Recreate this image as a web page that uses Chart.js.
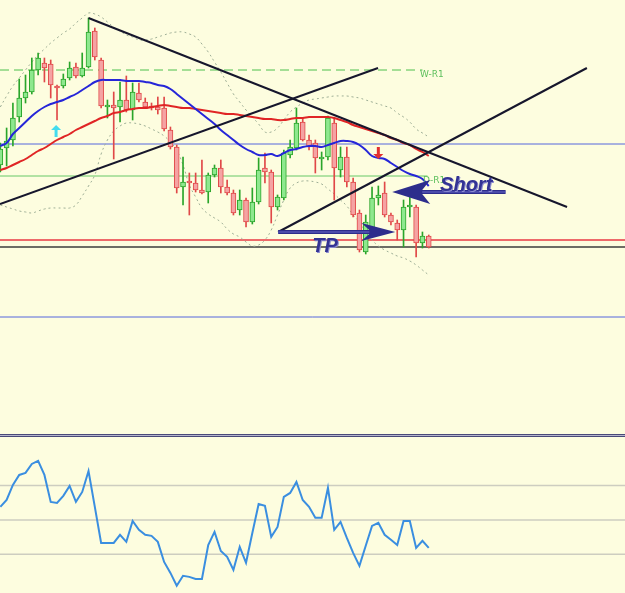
<!DOCTYPE html>
<html><head><meta charset="utf-8">
<script src="https://cdn.jsdelivr.net/npm/chart.js@4.4.1/dist/chart.umd.min.js"></script>
<style>
html,body{margin:0;padding:0;background:#fdfddf;}
#wrap{width:625px;height:593px;position:relative;overflow:hidden;background:#fdfddf;}
#main{position:absolute;left:0;top:0;width:625px;height:434px;}
#sep{position:absolute;left:0;top:434px;width:625px;height:1px;border-top:1px solid #4a4a78;border-bottom:1px solid #4a4a78;background:#b4b4cc;}
#rsi{position:absolute;left:0;top:437px;width:625px;height:156px;}
</style></head><body>
<div id="wrap">
<canvas id="main" width="625" height="434"></canvas>
<div id="sep"></div>
<canvas id="rsi" width="625" height="156"></canvas>
</div>
<script>
// ---------- data ----------
const bars = [0,1,2,3,4,5,6,7,8,9,10,11,12,13,14,15,16,17,18,19,20,21,22,23,24,25,26,27,28,29,30,31,32,33,34,35,36,37,38,39,40,41,42,43,44,45,46,47,48,49,50,51,52,53,54,55,56,57,58,59,60,61,62,63,64,65,66,67,68];
const open = [1.3335,1.3352,1.3360,1.3383,1.3402,1.3408,1.3430,1.3437,1.3436,1.3414,
1.3414,1.3422,1.3433,1.3424,1.3433,1.3469,1.3440,1.3393,1.3395,1.3393,
1.3400,1.3390,1.3407,1.3398,1.3394,1.3393,1.3392,1.3370,1.3353,1.3313,
1.3319,1.3317,1.3310,1.3308,1.3325,1.3332,1.3313,1.3307,1.3290,1.3300,
1.3278,1.3298,1.3332,1.3328,1.3293,1.3302,1.3345,1.3352,1.3378,1.3360,
1.3357,1.3341,1.3343,1.3377,1.3330,1.3343,1.3318,1.3287,1.3248,1.3270,
1.3302,1.3307,1.3285,1.3277,1.3270,1.3293,1.3293,1.3257,1.3264];
const high = [1.3357,1.3372,1.3397,1.3421,1.3425,1.3442,1.3447,1.3442,1.3440,1.3415,
1.3426,1.3438,1.3437,1.3447,1.3482,1.3472,1.3442,1.3400,1.3408,1.3418,
1.3424,1.3417,1.3417,1.3402,1.3397,1.3403,1.3403,1.3373,1.3355,1.3343,
1.3327,1.3327,1.3340,1.3327,1.3335,1.3340,1.3320,1.3310,1.3310,1.3302,
1.3312,1.3342,1.3347,1.3330,1.3305,1.3350,1.3360,1.3392,1.3382,1.3365,
1.3360,1.3348,1.3384,1.3382,1.3353,1.3353,1.3322,1.3290,1.3285,1.3313,
1.3314,1.3318,1.3287,1.3280,1.3300,1.3303,1.3295,1.3268,1.3265];
const low = [1.3328,1.3334,1.3354,1.3378,1.3397,1.3406,1.3425,1.3418,1.3402,1.3380,
1.3412,1.3420,1.3422,1.3423,1.3432,1.3440,1.3392,1.3382,1.3341,1.3378,
1.3388,1.3380,1.3398,1.3392,1.3390,1.3386,1.3369,1.3351,1.3307,1.3295,
1.3285,1.3308,1.3306,1.3297,1.3323,1.3307,1.3305,1.3285,1.3285,1.3273,
1.3276,1.3296,1.3317,1.3277,1.3290,1.3300,1.3342,1.3350,1.3359,1.3350,
1.3327,1.3330,1.3340,1.3300,1.3323,1.3313,1.3283,1.3248,1.3246,1.3267,
1.3295,1.3283,1.3275,1.3260,1.3253,1.3283,1.3243,1.3252,1.3252];
const close = [1.3351,1.3359,1.3382,1.3402,1.3408,1.3430,1.3442,1.3432,1.3415,1.3412,
1.3421,1.3432,1.3424,1.3432,1.3468,1.3443,1.3394,1.3395,1.3392,1.3400,
1.3390,1.3408,1.3400,1.3393,1.3392,1.3390,1.3371,1.3353,1.3312,1.3318,
1.3317,1.3310,1.3307,1.3325,1.3332,1.3313,1.3307,1.3287,1.3300,1.3278,
1.3298,1.3330,1.3328,1.3293,1.3303,1.3347,1.3353,1.3377,1.3360,1.3353,
1.3342,1.3343,1.3382,1.3332,1.3343,1.3318,1.3285,1.3250,1.3278,1.3302,
1.3305,1.3285,1.3278,1.3270,1.3293,1.3295,1.3257,1.3264,1.3253];
const maFast = [1.3354,1.3357,1.3366,1.3372,1.3378,1.3384,1.3389,1.3393,1.3396,1.3398,
1.3400,1.3403,1.3406,1.3410,1.3414,1.3418,1.3420,1.3420,1.3420,1.3420,
1.3419,1.3419,1.3419,1.3418,1.3417,1.3415,1.3414,1.3411,1.3406,1.3401,
1.3396,1.3391,1.3386,1.3381,1.3376,1.3370,1.3365,1.3360,1.3355,1.3351,
1.3348,1.3345,1.3345,1.3346,1.3344,1.3347,1.3350,1.3351,1.3353,1.3354,
1.3354,1.3353,1.3355,1.3357,1.3359,1.3359,1.3358,1.3355,1.3350,1.3344,
1.3342,1.3341,1.3337,1.3333,1.3329,1.3326,1.3324,1.3321,1.3314];
const maSlow = [1.3330,1.3332,1.3335,1.3338,1.3341,1.3345,1.3349,1.3352,1.3356,1.3360,
1.3363,1.3366,1.3370,1.3373,1.3376,1.3379,1.3382,1.3384,1.3387,1.3388,
1.3390,1.3391,1.3392,1.3392,1.3393,1.3394,1.3395,1.3394,1.3393,1.3392,
1.3392,1.3391,1.3390,1.3389,1.3388,1.3387,1.3386,1.3386,1.3385,1.3384,
1.3383,1.3382,1.3381,1.3381,1.3380,1.3380,1.3381,1.3382,1.3382,1.3383,
1.3383,1.3383,1.3383,1.3382,1.3380,1.3378,1.3375,1.3373,1.3371,1.3369,
1.3367,1.3365,1.3362,1.3360,1.3357,1.3355,1.3351,1.3348,1.3344];
const bbUpper = [1.3393,1.3404,1.3414,1.3422,1.3430,1.3438,1.3445,1.3451,1.3457,1.3462,
1.3467,1.3471,1.3477,1.3482,1.3487,1.3486,1.3483,1.3478,1.3473,1.3469,
1.3465,1.3463,1.3460,1.3460,1.3461,1.3463,1.3465,1.3467,1.3468,1.3468,
1.3466,1.3463,1.3456,1.3448,1.3438,1.3428,1.3417,1.3406,1.3398,1.3390,
1.3383,1.3376,1.3368,1.3368,1.3372,1.3380,1.3388,1.3393,1.3397,1.3400,
1.3401,1.3402,1.3403,1.3404,1.3404,1.3404,1.3403,1.3402,1.3400,1.3398,
1.3396,1.3394,1.3392,1.3387,1.3383,1.3378,1.3371,1.3367,1.3363];
const bbLower = [1.3295,1.3293,1.3291,1.3289,1.3288,1.3287,1.3289,1.3291,1.3292,1.3292,
1.3292,1.3292,1.3295,1.3304,1.3314,1.3325,1.3346,1.3360,1.3369,1.3374,
1.3377,1.3377,1.3376,1.3374,1.3371,1.3368,1.3364,1.3358,1.3350,1.3335,
1.3315,1.3303,1.3292,1.3286,1.3282,1.3278,1.3271,1.3266,1.3263,1.3258,
1.3254,1.3255,1.3260,1.3270,1.3285,1.3300,1.3312,1.3317,1.3319,1.3319,
1.3318,1.3316,1.3311,1.3306,1.3300,1.3294,1.3285,1.3278,1.3268,1.3260,
1.3254,1.3250,1.3247,1.3244,1.3242,1.3239,1.3235,1.3230,1.3225];
const rsi = [57.6,61.6,70.4,76.2,77.4,82.6,84.4,76.2,60.5,59.9,
64.0,69.8,60.5,66.3,78.5,57.6,36.6,36.6,36.6,41.3,
37.2,49.4,44.2,41.3,40.7,37.2,25.5,19.1,11.6,17.4,
16.8,15.6,15.6,35.4,43.0,31.9,28.5,20.9,34.3,25.0,
42.4,59.3,58.2,40.1,45.9,63.4,65.7,72.1,61.6,57.6,
51.2,51.2,68.6,44.2,48.8,39.5,30.8,23.2,34.9,46.5,
48.3,41.3,38.4,35.4,49.4,49.4,33.7,37.8,33.7];
const rsiLevels = [30, 50, 70];

// horizontal levels (price, end index)
const levelPrice = [1.3430, 1.3356, 1.3324, 1.3260, 1.3253, 1.3183];
const levelEnd   = [67.0, 99.2, 67.8, 99.2, 99.2, 99.2];
const levelColor = ['#4cc04c', '#5566dd', '#66c866', '#ee6a6a', '#3c3c3c', '#5566dd'];
const levelWidth = [1, 1, 1, 2, 1.5, 1];
const levelDash  = [[9,5], [], [], [], [], []];
const levelLabels = [{text:'W-R1', x:66.6, y:1.3423}, {text:'D-R1', x:67.1, y:1.3317}];

// trend lines [x1, price1, x2, price2]
const trendLines = [[14, 1.3482, 89.95, 1.3293], [-0.05, 1.3296, 59.95, 1.3432], [44.1, 1.3268, 93.1, 1.3432]];
// fat arrows
const fatArrows = [{from:44.1, to:62.7, y:1.3268, head:34, barb:9}, {from:80.2, to:62.2, y:1.3308, head:38, barb:12}];
const notes = [{text:'Short', x:69.8, y:1.3309}, {text:'TP', x:49.5, y:1.3248}];
const signals = [{x:8.85, y:1.3369, dir:'up', color:'#44dcee'}, {x:60, y:1.3347, dir:'down', color:'#e23030'}];

const X_MIN = -0.05, X_MAX = 99.15;

// ---------- helpers ----------
const series = arr => arr.map((v, i) => ({x: bars[i], y: v}));
const isUp = bars.map((_, i) => close[i] >= open[i]);
const bodyFill = isUp.map(u => u ? '#8ee88e' : '#f5a3a3');
const bodyLine = isUp.map(u => u ? '#2aa52a' : '#e04848');

const datasets = [];
levelPrice.forEach((p, k) => datasets.push({
  type:'line', data:[{x:X_MIN, y:p}, {x:levelEnd[k], y:p}], borderColor:levelColor[k],
  borderWidth:levelWidth[k], borderDash:levelDash[k], pointRadius:0, order:30
}));
[bbUpper, bbLower].forEach(b => datasets.push({
  type:'line', data:series(b), borderColor:'#9eae96', borderWidth:1, borderDash:[2,3],
  pointRadius:0, tension:0.4, order:25
}));
datasets.push({type:'bar', data:bars.map((b,i)=>({x:b, y:[low[i], high[i]]})), backgroundColor:bodyLine,
  barThickness:1, grouped:false, order:20});
datasets.push({type:'bar', data:bars.map((b,i)=>({x:b, y:[open[i], close[i]]})), backgroundColor:bodyFill,
  borderColor:bodyLine, borderWidth:1, borderSkipped:false, barThickness:5, grouped:false, order:19});
datasets.push({type:'line', data:series(maSlow), borderColor:'#e02525', borderWidth:2, pointRadius:0, tension:0.4, order:10});
datasets.push({type:'line', data:series(maFast), borderColor:'#2626d8', borderWidth:2, pointRadius:0, tension:0.4, order:9});
trendLines.forEach(t => datasets.push({
  type:'line', data:[{x:t[0], y:t[1]}, {x:t[2], y:t[3]}], borderColor:'#16162c', borderWidth:2, pointRadius:0, order:5
}));

const annotate = {
  id:'annotate',
  afterDatasetsDraw(chart) {
    const {ctx} = chart; const xs = chart.scales.x, ys = chart.scales.y;
    const X = v => xs.getPixelForValue(v), Y = v => ys.getPixelForValue(v);
    ctx.save();
    ctx.font = '9px "DejaVu Sans", sans-serif';
    ctx.fillStyle = '#5cbf5c';
    levelLabels.forEach(l => ctx.fillText(l.text, X(l.x), Y(l.y)));
    // fat arrows
    fatArrows.forEach(a => {
      const x1 = X(a.from), tip = X(a.to), y = Y(a.y);
      const d = tip > x1 ? 1 : -1;
      const hb = tip - d * (a.head - 8);
      const bb = tip - d * a.head;
      ctx.fillStyle = '#2d2d8c';
      ctx.beginPath();
      ctx.moveTo(x1, y - 2); ctx.lineTo(hb, y - 2); ctx.lineTo(bb, y - a.barb);
      ctx.lineTo(tip, y); ctx.lineTo(bb, y + a.barb); ctx.lineTo(hb, y + 2); ctx.lineTo(x1, y + 2);
      ctx.closePath(); ctx.fill();
      ctx.fillStyle = '#6a6ac8';
      ctx.fillRect(Math.min(x1, hb), y - 0.5, Math.abs(hb - x1), 1);
    });
    // notes
    ctx.font = 'italic bold 20px "Liberation Sans", Arial, sans-serif';
    notes.forEach(n => {
      ctx.fillStyle = '#8c8cd0'; ctx.fillText(n.text, X(n.x) + 1, Y(n.y) + 1);
      ctx.fillStyle = '#333394'; ctx.fillText(n.text, X(n.x), Y(n.y));
    });
    // signal arrows
    signals.forEach(s => {
      const cx = X(s.x), cy = Y(s.y), k = s.dir === 'up' ? -1 : 1;
      ctx.fillStyle = s.color;
      ctx.beginPath();
      ctx.moveTo(cx, cy + k * 6); ctx.lineTo(cx - 5, cy + k * 1); ctx.lineTo(cx - 1.5, cy + k * 1);
      ctx.lineTo(cx - 1.5, cy - k * 6); ctx.lineTo(cx + 1.5, cy - k * 6); ctx.lineTo(cx + 1.5, cy + k * 1);
      ctx.lineTo(cx + 5, cy + k * 1); ctx.closePath(); ctx.fill();
    });
    ctx.restore();
  }
};

const xScale = {type:'linear', min:X_MIN, max:X_MAX, display:false, offset:false, bounds:'data'};

new Chart(document.getElementById('main'), {
  type:'bar',
  data:{datasets},
  options:{
    responsive:false, animation:false, events:[],
    layout:{padding:0},
    plugins:{legend:{display:false}, tooltip:{enabled:false}},
    scales:{x:xScale, y:{type:'linear', min:1.3066, max:1.3500, display:false, beginAtZero:false, bounds:'data'}}
  },
  plugins:[annotate]
});

const rsiSets = rsiLevels.map(v => ({type:'line', data:[{x:X_MIN, y:v}, {x:X_MAX, y:v}], borderColor:'#cdcdc0', borderWidth:1.5, pointRadius:0, order:5}));
rsiSets.push({type:'line', data:series(rsi), borderColor:'#3a8ee0', borderWidth:2, pointRadius:0, tension:0, order:1});

new Chart(document.getElementById('rsi'), {
  type:'line',
  data:{datasets:rsiSets},
  options:{
    responsive:false, animation:false, events:[],
    layout:{padding:0},
    plugins:{legend:{display:false}, tooltip:{enabled:false}},
    scales:{x:xScale, y:{type:'linear', min:7.4, max:98.3, display:false, bounds:'data'}}
  }
});
</script>
</body></html>
